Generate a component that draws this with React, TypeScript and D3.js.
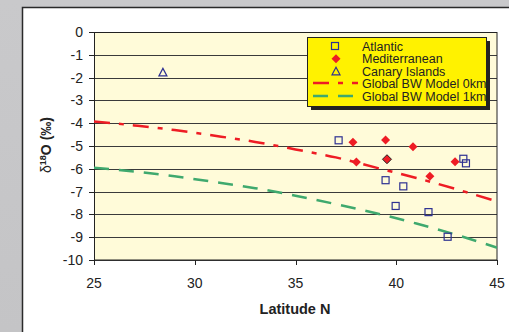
import React from "react";
import * as d3 from "d3";

const W = 509, H = 332;

const xTicks = [25, 30, 35, 40, 45];
const yTicks = [0, -1, -2, -3, -4, -5, -6, -7, -8, -9, -10];

const atlanticLat = [37.14, 39.47, 40.35, 39.97, 41.6, 42.55, 43.33, 43.46];
const atlanticD18O = [-4.75, -6.5, -6.77, -7.63, -7.9, -8.98, -5.56, -5.76];

const medLat = [37.85, 39.47, 40.83, 38.02, 41.67, 42.92];
const medD18O = [-4.84, -4.74, -5.03, -5.7, -6.33, -5.69];
const medHighlightLat = [39.54];
const medHighlightD18O = [-5.58];

const canaryLat = [28.42];
const canaryD18O = [-1.77];

const modelLat = [25, 27, 29, 31, 33, 35, 37, 39, 41, 43, 45];
const model0km = [-3.92, -4.1, -4.3, -4.55, -4.82, -5.15, -5.5, -5.95, -6.4, -6.9, -7.43];
const model1km = [-5.95, -6.12, -6.33, -6.58, -6.85, -7.18, -7.55, -7.95, -8.4, -8.9, -9.46];

const legendLabels = ["Atlantic", "Mediterranean", "Canary Islands", "Global BW Model 0km", "Global BW Model 1km"];

const RED = "#ee1c24";
const GREEN = "#3fa96e";
const BLUE = "#2e3192";

export default function App() {
  const x = d3.scaleLinear().domain([25, 45]).range([94, 497]);
  const y = d3.scaleLinear().domain([0, -10]).range([32, 260]);
  const line = d3.line<number>().x((_, i) => x(modelLat[i])).y((d) => y(d)).curve(d3.curveMonotoneX);
  const font = "'Liberation Sans', Arial, sans-serif";

  const square = (cx: number, cy: number, k: string) => (
    <rect key={k} x={cx - 3.5} y={cy - 3.5} width={7} height={7} fill="none" stroke={BLUE} strokeWidth={1.2} />
  );
  const diamond = (cx: number, cy: number, k: string, stroke?: string) => (
    <path key={k} d={`M${cx},${cy - 4.5}L${cx + 4.5},${cy}L${cx},${cy + 4.5}L${cx - 4.5},${cy}Z`} fill={RED} stroke={stroke || "none"} strokeWidth={1} />
  );
  const tri = (cx: number, cy: number, k: string) => (
    <path key={k} d={`M${cx},${cy - 4}L${cx + 4},${cy + 3.5}L${cx - 4},${cy + 3.5}Z`} fill="none" stroke={BLUE} strokeWidth={1.2} />
  );

  const lx = 307, ly = 37, lw = 179, lh = 69;
  const rowY = [46, 58.7, 71.3, 83, 96];

  return (
    <svg width={W} height={H} style={{ position: "absolute", left: 0, top: 0, fontFamily: font }}>
      <defs>
        <linearGradient id="bg" x1="0" y1="0" x2="0" y2="1">
          <stop offset="0" stopColor="#c9c9cb" />
          <stop offset="1" stopColor="#c4c4c6" />
        </linearGradient>
        <clipPath id="plotclip">
          <rect x={94} y={32} width={403} height={228} />
        </clipPath>
      </defs>
      <rect x={0} y={0} width={W} height={H} fill="url(#bg)" />
      <rect x={22.5} y={7.5} width={W} height={H} fill="#ffffff" stroke="#2a2a2a" strokeWidth={1.5} />
      <rect x={94} y={32} width={403} height={228} fill="#fffbd9" />
      {yTicks.map((t) => (
        <line key={"g" + t} x1={94} x2={497} y1={Math.round(y(t)) + 0.5} y2={Math.round(y(t)) + 0.5} stroke="#3a3a3a" strokeWidth={1} />
      ))}
      <rect x={94.5} y={32.5} width={402.5} height={227.5} fill="none" stroke="#222" strokeWidth={1} />
      {yTicks.map((t) => (
        <g key={"yt" + t}>
          <line x1={89} x2={94} y1={Math.round(y(t)) + 0.5} y2={Math.round(y(t)) + 0.5} stroke="#222" />
          <text x={83} y={y(t)} dy="0.36em" textAnchor="end" fontSize={14} fill="#222">{t}</text>
        </g>
      ))}
      {xTicks.map((t) => (
        <g key={"xt" + t}>
          <line x1={Math.round(x(t)) + 0.5} x2={Math.round(x(t)) + 0.5} y1={260} y2={265} stroke="#222" />
          <text x={x(t)} y={288} textAnchor="middle" fontSize={14} fill="#222">{t}</text>
        </g>
      ))}
      <text x={295} y={314} textAnchor="middle" fontSize={14.5} fontWeight="bold" fill="#222">Latitude N</text>
      <text transform="translate(51,145) rotate(-90)" textAnchor="middle" fontSize={14} fontWeight="bold" fill="#222">
        <tspan fontWeight="normal">δ</tspan>
        <tspan fontSize={9} dy={-5}>18</tspan>
        <tspan dy={5}>O (‰)</tspan>
      </text>
      <g clipPath="url(#plotclip)">
        <path d={line(model0km) || ""} fill="none" stroke={RED} strokeWidth={2.5} strokeDasharray="16 9 5 9" />
        <path d={line(model1km) || ""} fill="none" stroke={GREEN} strokeWidth={2.5} strokeDasharray="15 10" />
      </g>
      {atlanticLat.map((v, i) => square(x(v), y(atlanticD18O[i]), "a" + i))}
      {medLat.map((v, i) => diamond(x(v), y(medD18O[i]), "m" + i))}
      {medHighlightLat.map((v, i) => diamond(x(v), y(medHighlightD18O[i]), "mh" + i, "#222"))}
      {canaryLat.map((v, i) => tri(x(v), y(canaryD18O[i]), "c" + i))}
      <rect x={lx + 4} y={ly + 4} width={lw} height={lh} fill="#222" />
      <rect x={lx + 0.5} y={ly + 0.5} width={lw} height={lh} fill="#fff200" stroke="#222" strokeWidth={1} />
      {square(335, rowY[0], "la")}
      {diamond(336, rowY[1], "lm")}
      {tri(336, rowY[2], "lc")}
      <line x1={313} x2={358} y1={rowY[3]} y2={rowY[3]} stroke={RED} strokeWidth={2.5} strokeDasharray="16 9 5 9" />
      <line x1={313} x2={358} y1={rowY[4]} y2={rowY[4]} stroke={GREEN} strokeWidth={2.5} strokeDasharray="15 10" />
      {legendLabels.map((l, i) => (
        <text key={"l" + i} x={362} y={rowY[i]} dy="0.36em" fontSize={12.5} fill="#222">{l}</text>
      ))}
    </svg>
  );
}
